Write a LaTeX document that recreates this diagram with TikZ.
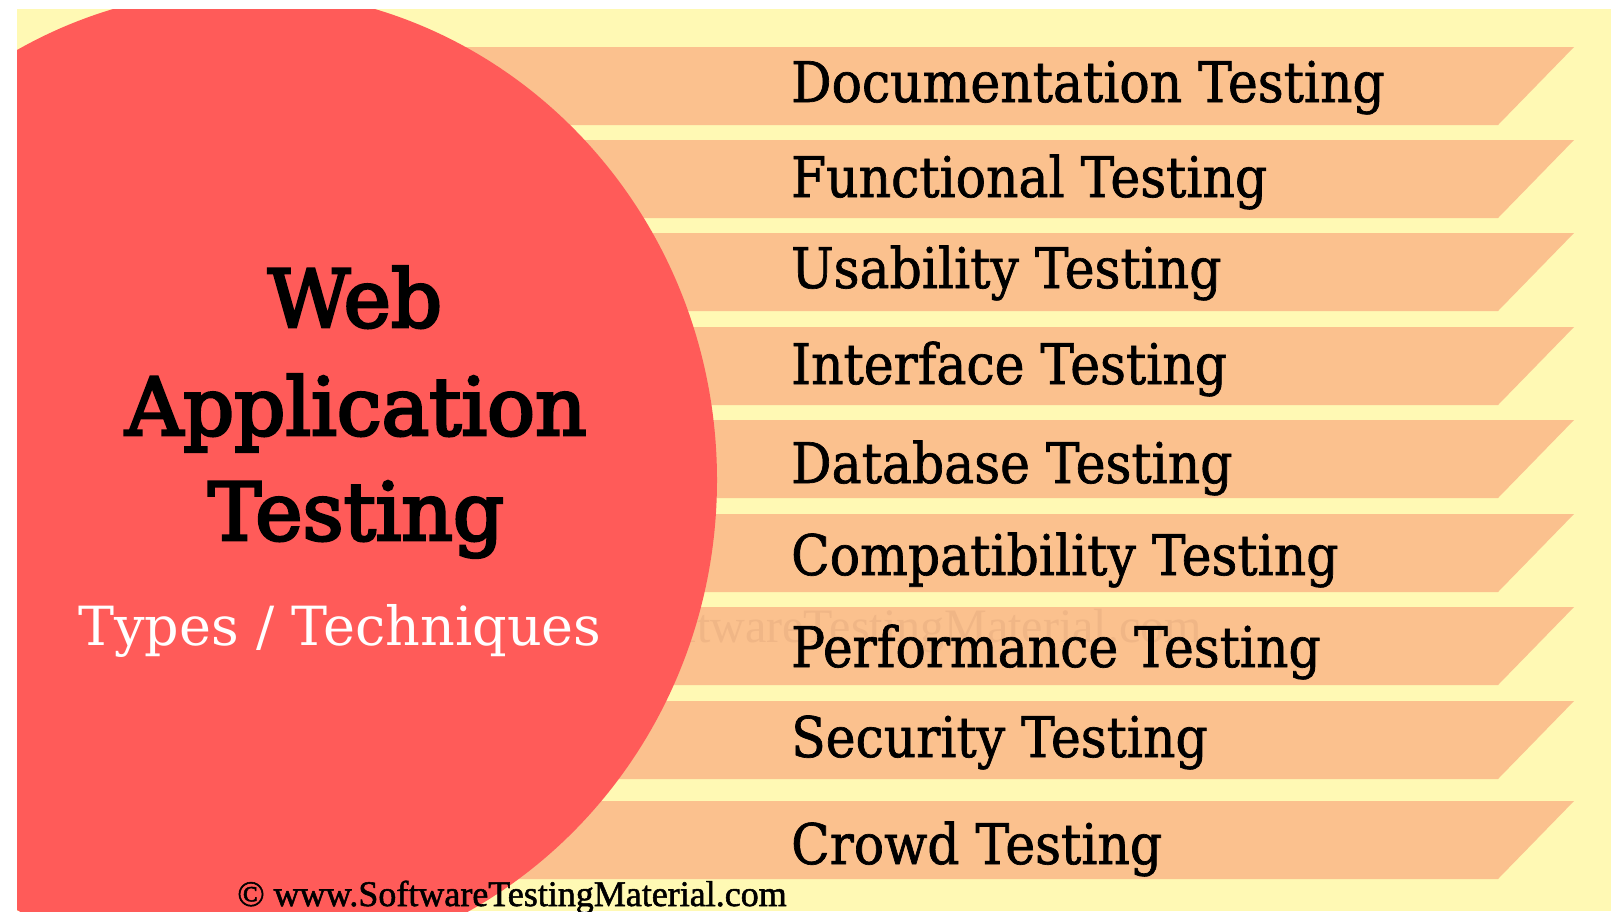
\documentclass[tikz,border=0pt]{standalone}
\usepackage{fontspec}
\newfontfamily\bannerfont[FakeStretch=0.9,FakeBold=1.2]{DejaVu Serif}
\newfontfamily\titlefont[FakeBold=3.5]{DejaVu Serif}
\newfontfamily\subfont{DejaVu Serif}
\newfontfamily\markfont{Liberation Serif}
\newfontfamily\copyfont[FakeBold=1.5]{Liberation Serif}
\definecolor{bgyellow}{RGB}{255,249,180}
\definecolor{bandorange}{RGB}{251,193,142}
\definecolor{discred}{RGB}{255,91,89}
\definecolor{markcol}{RGB}{240,182,134}
\tikzset{
  band/.style={fill=bandorange},
  bandtext/.style={anchor=base west, inner sep=0pt, font=\bannerfont\fontsize{56}{60}\selectfont, text=black},
  titletext/.style={anchor=base, inner sep=0pt, font=\titlefont\fontsize{80}{90}\selectfont, text=black},
}
\begin{document}
\begin{tikzpicture}[x=1pt,y=-1pt]
\useasboundingbox (0,0) rectangle (1611,911);
\fill[white] (0,0) rectangle (1611,911);
\begin{scope}
  \clip (17,9) rectangle (1611,911);
  \fill[bgyellow] (17,9) rectangle (1611,911);
  \foreach \t in {47,140,233,327,420,514,607,701,801}
    \fill[band] (250,\t) -- (1574,\t) -- (1498,\t+78) -- (250,\t+78) -- cycle;
  \node[anchor=base east, inner sep=0pt, text=markcol, font=\markfont\fontsize{48}{50}\selectfont] (wm) at (1202,642) {www.SoftwareTestingMaterial.com};
  \fill[discred] (244,480) ellipse[x radius=473pt, y radius=490pt];
\end{scope}
\node[titletext] (t1) at (355,327) {Web};
\node[titletext] (t2) at (356,435) {Application};
\node[titletext] (t3) at (356,540) {Testing};
\node[anchor=base, inner sep=0pt, text=white, font=\subfont\fontsize{54}{60}\selectfont] (sub) at (340,645) {Types / Techniques};
\node[bandtext] (n1) at (791,102) {Documentation Testing};
\node[bandtext] (n2) at (791,197) {Functional Testing};
\node[bandtext] (n3) at (791,288) {Usability Testing};
\node[bandtext] (n4) at (791,384) {Interface Testing};
\node[bandtext] (n5) at (791,483) {Database Testing};
\node[bandtext] (n6) at (791,575) {Compatibility Testing};
\node[bandtext] (n7) at (791,667) {Performance Testing};
\node[bandtext] (n8) at (791,757) {Security Testing};
\node[bandtext] (n9) at (791,864) {Crowd Testing};
\node[anchor=base, inner sep=0pt, text=black, font=\copyfont\fontsize{36}{40}\selectfont] (copy) at (512,906) {© www.SoftwareTestingMaterial.com};
\end{tikzpicture}
\end{document}
